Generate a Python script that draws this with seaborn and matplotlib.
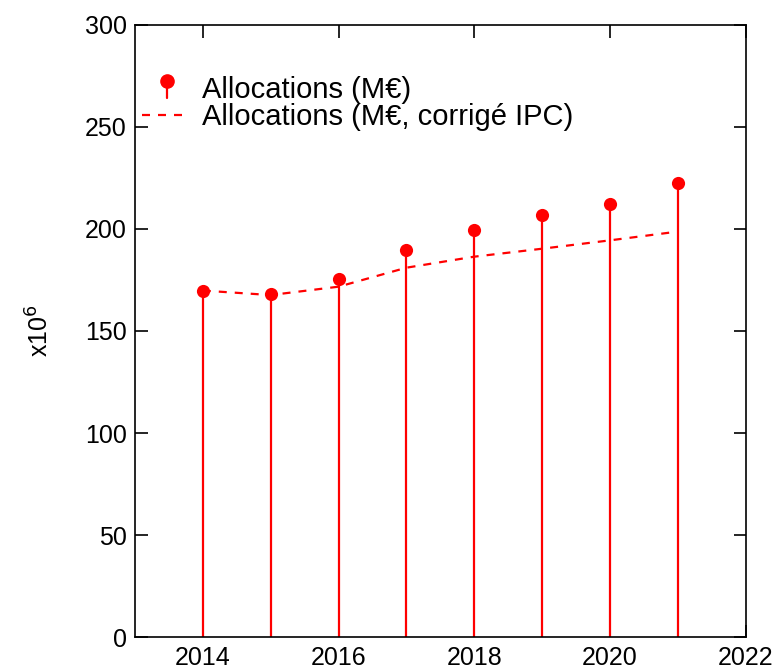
import pandas as pd
import matplotlib.pyplot as plt
import seaborn as sns
from matplotlib.lines import Line2D
from matplotlib.legend_handler import HandlerBase

# data
years = [2014, 2015, 2016, 2017, 2018, 2019, 2020, 2021]
allocations = [169.8, 168.1, 175.6, 189.7, 199.5, 206.7, 212.4, 222.4]
allocations_ipc = [169.8, 167.6, 171.7, 181.0, 186.4, 190.3, 194.4, 198.7]

df = pd.DataFrame({"year": years, "alloc": allocations, "alloc_ipc": allocations_ipc})

sns.set_style("ticks")
plt.rcParams['font.family'] = ['Liberation Sans', 'DejaVu Sans']
for key in ["text.color", "axes.labelcolor", "xtick.color", "ytick.color", "axes.edgecolor"]:
    plt.rcParams[key] = "black"

fig = plt.figure(figsize=(7.8, 6.7), dpi=100)
ax = fig.add_axes([0.173, 0.049, 0.783, 0.914])

red = "#ff0000"
dash = [3.6, 3.6]

# stems
ax.vlines(df["year"], 0, df["alloc"], color=red, linewidth=1.6, zorder=2)
sns.scatterplot(data=df, x="year", y="alloc", color=red, s=90, edgecolor=red,
                linewidth=0, ax=ax, zorder=3, legend=False)
sns.lineplot(data=df, x="year", y="alloc_ipc", color=red, linewidth=1.6,
             ax=ax, zorder=2, legend=False)
ax.lines[-1].set_dashes(dash)


class StemHandler(HandlerBase):
    def create_artists(self, legend, orig_handle, xdescent, ydescent,
                       width, height, fontsize, trans):
        cx = width / 2 - xdescent + 3
        cy = height * 0.5 - ydescent + 5
        stem = Line2D([cx, cx], [cy, cy - 12], color=red, linewidth=1.6,
                      transform=trans)
        dot = Line2D([cx], [cy], marker='o', markersize=9.5, color=red,
                     linestyle='none', transform=trans)
        return [stem, dot]


stem_handle = Line2D([], [], color=red)
dash_handle = Line2D([], [], color=red, linewidth=1.6, dashes=dash)
ax.legend([stem_handle, dash_handle],
          ["Allocations (M€)", "Allocations (M€, corrigé IPC)"],
          handler_map={stem_handle: StemHandler()},
          loc="upper left", bbox_to_anchor=(-0.008, 0.935), frameon=False,
          fontsize=21, handlelength=1.45, handletextpad=0.6, labelspacing=-0.05,
          borderaxespad=0)

ax.set_xlim(2013, 2022)
ax.set_ylim(0, 300)
ax.set_xticks([2014, 2016, 2018, 2020, 2022])
ax.set_yticks([0, 50, 100, 150, 200, 250, 300])
ax.set_xlabel("")
ax.set_ylabel(r"x10$^6$", fontsize=18, labelpad=22)
ax.tick_params(direction="in", length=9, width=1.2, labelsize=18,
               top=True, right=True, pad=6)
for s in ax.spines.values():
    s.set_linewidth(1.2)
    s.set_color("black")

plt.savefig("out.png", dpi=100)
